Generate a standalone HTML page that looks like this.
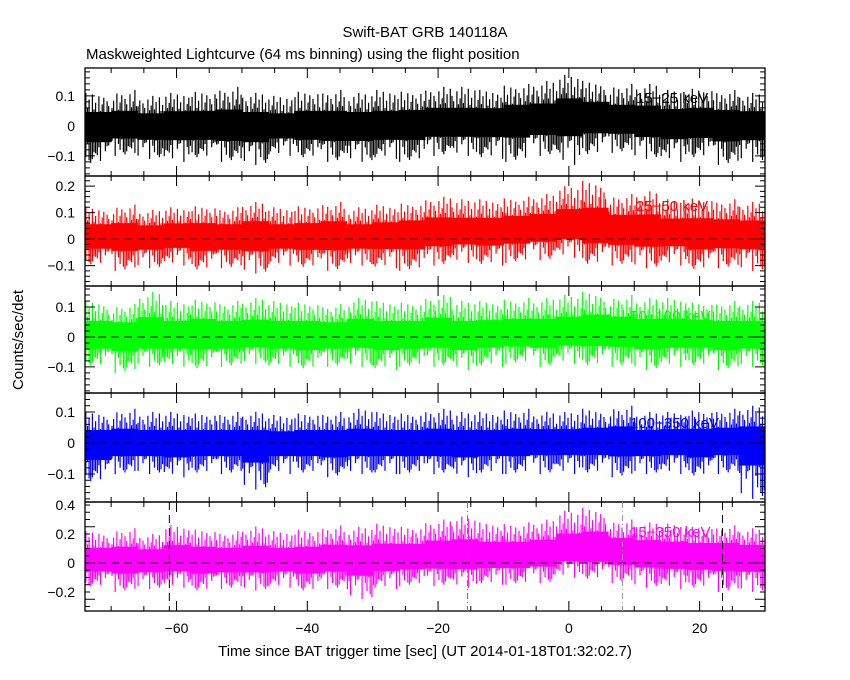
<!DOCTYPE html>
<html><head><meta charset="utf-8"><style>
html,body{margin:0;padding:0;background:#fff;}
svg{display:block;font-family:"Liberation Sans",sans-serif;}
</style></head><body>
<svg id="chart" width="850" height="680" viewBox="0 0 850 680">
<rect width="850" height="680" fill="#fff"/>
<text x="425" y="37" text-anchor="middle" font-size="15">Swift-BAT GRB 140118A</text>
<text x="86" y="59" font-size="15">Maskweighted Lightcurve (64 ms binning) using the flight position</text>
<text x="23" y="340" font-size="15" text-anchor="middle" transform="rotate(-90 23 340)">Counts/sec/det</text>
<text x="425" y="656" font-size="15" text-anchor="middle">Time since BAT trigger time [sec] (UT 2014-01-18T01:32:02.7)</text>
<g id="plots"></g>
</svg>
<script>
// time bins: 4 s each, from -74 to 30
const binStart = [-74,-70,-66,-62,-58,-54,-50,-46,-42,-38,-34,-30,-26,-22,-18,-14,-10,-6,-2,2,6,10,14,18,22,26];
const xTicks = [-60,-40,-20,0,20];
const blackMean = [0,0,0,0.005,0,0,0,0,0,0,0,0,0.005,0.01,0.01,0.015,0.02,0.02,0.035,0.03,0.02,0.015,0.01,0.01,0.005,0.005];
const blackHi = [0.11,0.12,0.1,0.11,0.12,0.13,0.11,0.1,0.12,0.12,0.11,0.12,0.12,0.13,0.13,0.12,0.14,0.15,0.17,0.15,0.14,0.14,0.12,0.13,0.12,0.11];
const blackLo = [-0.13,-0.1,-0.11,-0.12,-0.11,-0.12,-0.13,-0.1,-0.11,-0.12,-0.12,-0.11,-0.12,-0.1,-0.1,-0.11,-0.12,-0.1,-0.13,-0.1,-0.09,-0.11,-0.12,-0.11,-0.13,-0.12];
const redMean = [0.01,0.01,0.01,0.015,0.01,0.01,0.015,0.01,0.01,0.015,0.01,0.015,0.02,0.025,0.03,0.03,0.035,0.04,0.05,0.045,0.035,0.03,0.025,0.02,0.02,0.02];
const redHi = [0.12,0.13,0.11,0.12,0.13,0.12,0.14,0.12,0.13,0.14,0.12,0.13,0.14,0.16,0.15,0.15,0.16,0.17,0.2,0.22,0.17,0.18,0.15,0.16,0.15,0.14];
const redLo = [-0.1,-0.12,-0.11,-0.1,-0.12,-0.11,-0.13,-0.1,-0.11,-0.12,-0.1,-0.11,-0.12,-0.1,-0.09,-0.1,-0.09,-0.08,-0.07,-0.1,-0.1,-0.11,-0.1,-0.12,-0.11,-0.12];
const greenMean = [0.005,0.005,0.005,0.005,0.01,0.005,0.005,0.005,0.005,0.005,0.01,0.005,0.005,0.01,0.005,0.01,0.01,0.01,0.015,0.02,0.015,0.01,0.01,0.01,0.005,0.005];
const greenHi = [0.12,0.11,0.15,0.12,0.13,0.12,0.13,0.12,0.12,0.11,0.13,0.12,0.12,0.14,0.12,0.12,0.13,0.13,0.14,0.15,0.14,0.13,0.13,0.12,0.12,0.12];
const greenLo = [-0.1,-0.12,-0.1,-0.1,-0.11,-0.1,-0.09,-0.1,-0.11,-0.1,-0.1,-0.11,-0.1,-0.1,-0.11,-0.1,-0.09,-0.1,-0.09,-0.1,-0.1,-0.11,-0.1,-0.1,-0.11,-0.1];
const blueMean = [0,0,0,0,0,0,0,0,0,0,0,0,0,0,0,0,0,0.005,0.005,0.005,0.005,0,0.005,0,0.005,0.005];
const blueHi = [0.1,0.11,0.1,0.1,0.1,0.1,0.1,0.09,0.1,0.1,0.11,0.1,0.1,0.11,0.1,0.1,0.11,0.1,0.1,0.11,0.12,0.1,0.1,0.11,0.11,0.12];
const blueLo = [-0.13,-0.1,-0.1,-0.11,-0.1,-0.1,-0.15,-0.1,-0.1,-0.11,-0.1,-0.1,-0.1,-0.1,-0.11,-0.1,-0.1,-0.1,-0.1,-0.1,-0.11,-0.1,-0.1,-0.11,-0.1,-0.18];
const magMean = [0.02,0.02,0.02,0.025,0.02,0.02,0.025,0.02,0.02,0.03,0.03,0.035,0.04,0.05,0.05,0.05,0.05,0.06,0.09,0.1,0.08,0.07,0.06,0.05,0.05,0.04];
const magHi = [0.22,0.24,0.2,0.26,0.24,0.22,0.25,0.22,0.24,0.26,0.25,0.27,0.26,0.3,0.32,0.28,0.28,0.3,0.36,0.38,0.3,0.28,0.27,0.26,0.26,0.24];
const magLo = [-0.17,-0.2,-0.18,-0.17,-0.2,-0.18,-0.19,-0.17,-0.2,-0.18,-0.25,-0.18,-0.16,-0.16,-0.17,-0.15,-0.15,-0.14,-0.1,-0.12,-0.14,-0.17,-0.18,-0.18,-0.2,-0.2];
const panelLabels = ["15\u221225 keV","25\u221250 keV","50\u2212100 keV","100\u2212350 keV","15\u2212350 keV"];
const yTickLabels = [[0.1,0,-0.1],[0.2,0.1,0,-0.1],[0.1,0,-0.1],[0.1,0,-0.1],[0.4,0.2,0,-0.2]];

const NS="http://www.w3.org/2000/svg";
const X0=85,X1=765,T0=-74,T1=30;
function xs(t){return X0+(t-T0)/(T1-T0)*(X1-X0);}
const panels=[
 {top:68,bot:176,vmax:0.193,vmin:-0.167,color:"#000",mean:blackMean,hi:blackHi,lo:blackLo,minor:0.02,name:"15-25"},
 {top:176,bot:286,vmax:0.238,vmin:-0.177,color:"#ff0000",mean:redMean,hi:redHi,lo:redLo,minor:0.02,name:"25-50"},
 {top:286,bot:393,vmax:0.17,vmin:-0.187,color:"#00ff00",mean:greenMean,hi:greenHi,lo:greenLo,minor:0.02,name:"50-100"},
 {top:393,bot:502,vmax:0.161,vmin:-0.19,color:"#0000ff",mean:blueMean,hi:blueHi,lo:blueLo,minor:0.02,name:"100-350"},
 {top:502,bot:611,vmax:0.421,vmin:-0.331,color:"#ff00ff",mean:magMean,hi:magHi,lo:magLo,minor:0.05,name:"15-350"}
];
const pattern=[1,0.55,0.8,0.35,0.95,0.5,0.7,0.3,0.9,0.45,0.65,0.85,0.4,0.75,0.6,0.25,0.88,0.52,0.68];
const root=document.getElementById('plots');
function mk(tag,attrs){const e=document.createElementNS(NS,tag);for(const k in attrs)e.setAttribute(k,attrs[k]);return e;}
panels.forEach((p,pi)=>{
 const g=mk('g',{});
 
 
 root.appendChild(g);
 const ys=v=>p.bot-(v-p.vmin)/(p.vmax-p.vmin)*(p.bot-p.top);
 let d='';
 binStart.forEach((b,i)=>{
  const xa=xs(b),xb=xs(b+4),n=16,m=p.mean[i];
  for(let k=0;k<n;k++){
   const x=xa+(xb-xa)*(k+0.5)/n;
   const fu=pattern[(k+i*5)%pattern.length],fl=pattern[(k*7+i*3+2)%pattern.length];
   const yh=ys(m+(p.hi[i]-m)*fu),yl=ys(m+(p.lo[i]-m)*fl);
   d+='M'+x.toFixed(1)+' '+yh.toFixed(1)+'V'+yl.toFixed(1);
  }
  const core=0.42;
  const r=mk('rect',{x:xa.toFixed(1),width:(xb-xa+0.5).toFixed(1),y:ys(m+(p.hi[i]-m)*core).toFixed(1),height:(ys(m+(p.lo[i]-m)*core)-ys(m+(p.hi[i]-m)*core)).toFixed(1),fill:p.color});
  
  
  g.appendChild(r);
 });
 const path=mk('path',{d:d,stroke:p.color,'stroke-width':1.2,fill:'none'});
 
 
 g.appendChild(path);
 const zl=mk('line',{x1:X0,x2:X1,y1:ys(0),y2:ys(0),stroke:'#000','stroke-dasharray':'8,5','stroke-width':1});
 
 
 g.appendChild(zl);
 const fr=mk('rect',{x:X0,y:p.top,width:X1-X0,height:p.bot-p.top,fill:'none',stroke:'#000','stroke-width':1.3});
 
 
 g.appendChild(fr);
 let td='';
 for(let t=-70;t<=30;t+=5){const x=xs(t),L=(t%20===0)?10:5;td+='M'+x+' '+p.bot+'v-'+L+'M'+x+' '+p.top+'v'+L;}
 const start=Math.ceil(p.vmin/p.minor-1e-6);
 for(let k=start;k*p.minor<=p.vmax+1e-9;k++){const v=k*p.minor,y=ys(v);const maj=Math.abs(Math.round(v/(p.minor*5))*(p.minor*5)-v)<1e-6;const L=maj?10:5;td+='M'+X0+' '+y+'h'+L+'M'+X1+' '+y+'h-'+L;}
 const tk=mk('path',{d:td,stroke:'#000','stroke-width':1,fill:'none'});
 
 
 g.appendChild(tk);
 yTickLabels[pi].forEach(v=>{
  const t=mk('text',{x:75,y:ys(v)+5,'text-anchor':'end','font-size':14});
  t.textContent=v<0?'\u2212'+Math.abs(v):String(v);
  
  
  g.appendChild(t);
 });
 const lb=mk('text',{x:pi<2?636:630,y:p.top+35,'font-size':15,fill:p.color});
 lb.textContent=panelLabels[pi];
 
 
 g.appendChild(lb);
 if(pi===4){
  const marks=[[-61.1,'#000','8,5'],[23.5,'#000','8,5'],[8.2,'#999','6,3,1,3'],[-15.5,'#00cc00','6,3,1,3']];
  marks.forEach(mm=>{
   const l=mk('line',{x1:xs(mm[0]),x2:xs(mm[0]),y1:p.top,y2:p.bot,stroke:mm[1],'stroke-dasharray':mm[2],'stroke-width':1});
   
   
   g.appendChild(l);
  });
 }
});
xTicks.forEach(t=>{
 const e=mk('text',{x:xs(t),y:633,'text-anchor':'middle','font-size':14});
 e.textContent=t<0?'\u2212'+Math.abs(t):String(t);
 
 
 root.appendChild(e);
});
</script>
</body></html>
